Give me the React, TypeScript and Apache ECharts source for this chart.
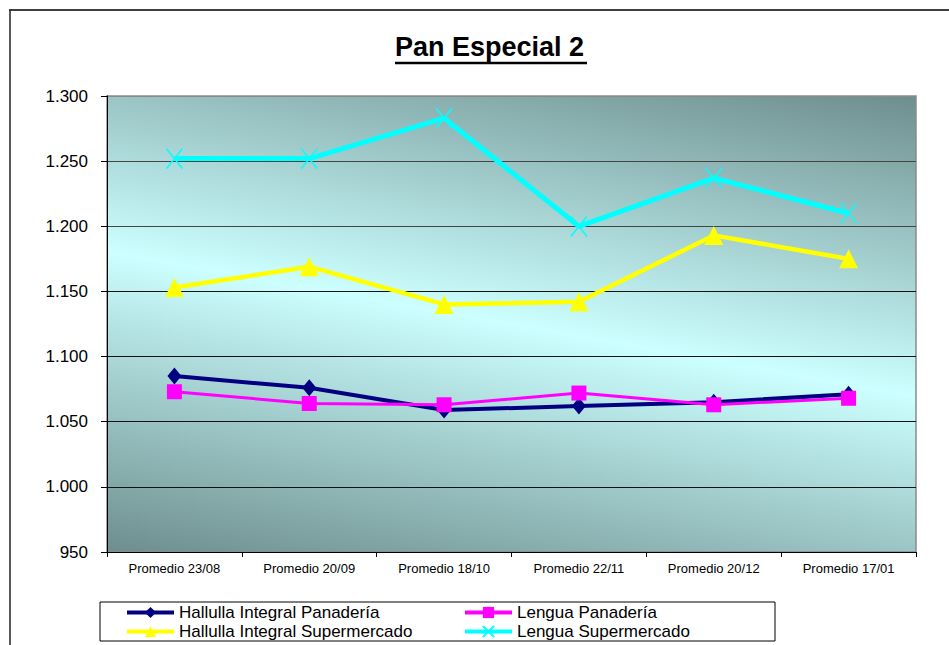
import React, { useEffect, useRef } from "react";
import * as echarts from "echarts";

const categories = ["Promedio 23/08", "Promedio 20/09", "Promedio 18/10", "Promedio 22/11", "Promedio 20/12", "Promedio 17/01"];
const hallullaPanaderia = [1085, 1076, 1059, 1062, 1065, 1071];
const lenguaPanaderia = [1073, 1064, 1063, 1072, 1063, 1068];
const hallullaSuper = [1153, 1169, 1140, 1142, 1193, 1175];
const lenguaSuper = [1252, 1252, 1283, 1200, 1237, 1210];
const yTicks = { min: 950, max: 1300, interval: 50 };

const FONT = "Liberation Sans, Arial, sans-serif";

function fmt(v: number): string {
  if (v >= 1000) {
    return Math.floor(v / 1000) + "." + String(v % 1000).padStart(3, "0");
  }
  return String(v);
}

export default function App() {
  const ref = useRef<HTMLDivElement>(null);
  useEffect(() => {
    if (!ref.current) return;
    const chart = echarts.init(ref.current, undefined, { renderer: "svg" });
    const bg = new echarts.graphic.LinearGradient(0.259, 1.258, 0.741, -0.258, [
      { offset: 0, color: "#557070" },
      { offset: 0.5, color: "#ccffff" },
      { offset: 1, color: "#557070" },
    ]);
    const legendCommon = {
      orient: "vertical" as const,
      top: 603,
      padding: 0,
      itemGap: 0,
      itemWidth: 47,
      itemHeight: 14,
      lineStyle: { width: 4 },
      textStyle: { fontFamily: FONT, fontSize: 17, color: "#000", lineHeight: 19 },
    };
    chart.setOption({
      animation: false,
      backgroundColor: "#fff",
      title: {
        text: "Pan Especial 2",
        left: 395,
        top: 33,
        padding: 0,
        textStyle: { fontFamily: FONT, fontSize: 27, fontWeight: "bold", color: "#000" },
      },
      legend: [
        { ...legendCommon, left: 125, data: ["Hallulla Integral Panadería", "Hallulla Integral Supermercado"] },
        { ...legendCommon, left: 463, data: ["Lengua Panadería", "Lengua Supermercado"] },
      ],
      graphic: [
        { type: "line", shape: { x1: 9, y1: 10, x2: 949, y2: 10 }, style: { stroke: "#404040", lineWidth: 2 } },
        { type: "line", shape: { x1: 10, y1: 10, x2: 10, y2: 645 }, style: { stroke: "#222", lineWidth: 1.5 } },
        { type: "line", shape: { x1: 395, y1: 63, x2: 587, y2: 63 }, style: { stroke: "#000", lineWidth: 2.5 } },
        { type: "rect", shape: { x: 100, y: 602, width: 675, height: 39 }, style: { fill: "none", stroke: "#000", lineWidth: 1 }, z: -1 },
      ],
      grid: {
        left: 107,
        right: 33,
        top: 96,
        bottom: 93,
        show: true,
        backgroundColor: bg,
        borderColor: "#8a8a8a",
        borderWidth: 1.5,
      },
      xAxis: {
        type: "category",
        data: categories,
        boundaryGap: true,
        axisLine: { lineStyle: { color: "#000", width: 1 } },
        axisTick: { show: true, length: 5, interval: 0, lineStyle: { color: "#000" } },
        axisLabel: { fontFamily: FONT, fontSize: 13, color: "#000", margin: 10, interval: 0 },
        splitLine: { show: false },
      },
      yAxis: {
        type: "value",
        min: yTicks.min,
        max: yTicks.max,
        interval: yTicks.interval,
        axisLine: { show: true, lineStyle: { color: "#000", width: 1 } },
        axisTick: { show: true, length: 6, lineStyle: { color: "#000" } },
        axisLabel: { fontFamily: FONT, fontSize: 17, color: "#000", margin: 19, formatter: (v: number) => fmt(v) },
        splitLine: {
          show: true,
          lineStyle: {
            color: ["#000", "#111", "#111", "#111", "#111", "#444", "#444", "#8a8a8a"],
            width: 1,
          },
        },
      },
      series: [
        {
          name: "Hallulla Integral Panadería",
          type: "line",
          data: hallullaPanaderia,
          symbol: "diamond",
          symbolSize: [14, 17],
          lineStyle: { color: "#000080", width: 4 },
          itemStyle: { color: "#000080" },
          z: 3,
        },
        {
          name: "Lengua Panadería",
          type: "line",
          data: lenguaPanaderia,
          symbol: "rect",
          symbolSize: 15,
          lineStyle: { color: "#ff00ff", width: 3 },
          itemStyle: { color: "#ff00ff" },
          z: 4,
        },
        {
          name: "Hallulla Integral Supermercado",
          type: "line",
          data: hallullaSuper,
          symbol: "triangle",
          symbolSize: [19, 19],
          lineStyle: { color: "#ffff00", width: 4.5 },
          itemStyle: { color: "#ffff00" },
          z: 3,
        },
        {
          name: "Lengua Supermercado",
          type: "line",
          data: lenguaSuper,
          symbol: "path://M0,0L10,12M10,0L0,12",
          symbolSize: [16, 20],
          lineStyle: { color: "#00ffff", width: 5 },
          itemStyle: { color: "#00ffff", borderColor: "#00ffff", borderWidth: 1.5 },
          z: 3,
        },
      ],
    });
    return () => chart.dispose();
  }, []);
  return (
    <div
      ref={ref}
      style={{ position: "fixed", left: 0, top: 0, width: 949, height: 645 }}
    />
  );
}
